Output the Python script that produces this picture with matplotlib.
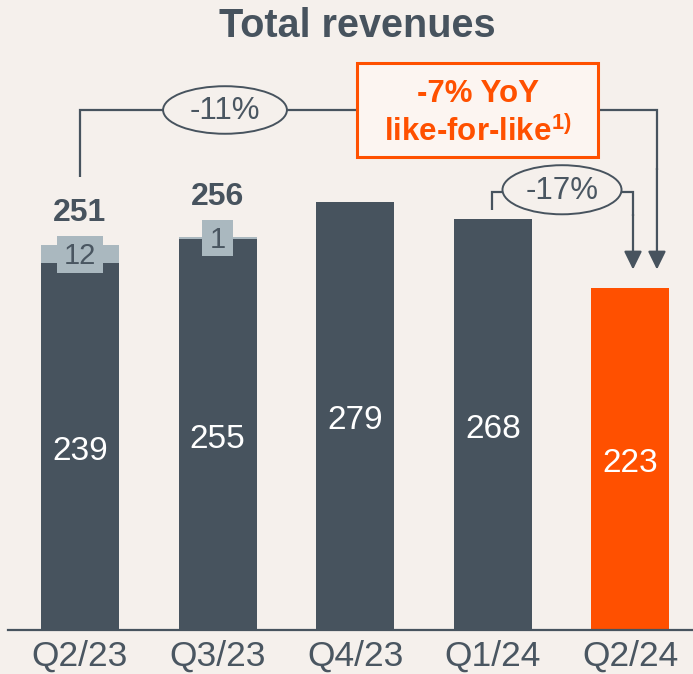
import matplotlib

matplotlib.use("Agg")
import matplotlib.pyplot as plt  # noqa: E402
from matplotlib.patches import Ellipse, Rectangle  # noqa: E402

plt.rcParams["font.family"] = ["Liberation Sans", "DejaVu Sans"]

# data
quarters = ["Q2/23", "Q3/23", "Q4/23", "Q1/24", "Q2/24"]
base_values = [239, 255, 279, 268, 223]
extra_values = [12, 1, 0, 0, 0]
yoy_change = "-11%"
qoq_change = "-17%"
lfl_lines = ["-7% YoY", r"like-for-like$^{\mathregular{1)}}$"]

BG = "#F5F0EC"
DARK = "#47535E"
LIGHT = "#AAB8BF"
ORANGE = "#FF5000"
INK = "#4A5661"

fig = plt.figure(figsize=(6.93, 6.74), dpi=100)
fig.patch.set_facecolor(BG)
ax = fig.add_axes([8 / 693, 44 / 674, 685 / 693, 630 / 674])
ax.set_facecolor("none")
ax.set_xlim(-0.523, 4.455)
ax.set_ylim(0, 410.7)

x = list(range(len(quarters)))
colors = [DARK] * (len(quarters) - 1) + [ORANGE]
ax.bar(x, base_values, width=0.567, color=colors, zorder=2)
ax.bar(x, extra_values, bottom=base_values, width=0.567, color=LIGHT, zorder=2)

for xi, b, e in zip(x, base_values, extra_values):
    ax.text(xi, b / 2 - 3, str(b), ha="center", va="center", color="white", fontsize=24, zorder=4)
    if e:
        w = 0.12 + 0.11 * len(str(e))
        mid = b + e / 2
        ax.add_patch(Rectangle((xi - w / 2, mid - 12), w, 24, facecolor=LIGHT, edgecolor="none", zorder=3))
        ax.text(xi, mid - 1, str(e), ha="center", va="center", color=INK, fontsize=21, zorder=4)
        ax.text(xi, mid + 27, str(b + e), ha="center", va="center", color=DARK,
                fontsize=23, fontweight="bold", zorder=4)

# axis styling
for s in ["top", "right", "left"]:
    ax.spines[s].set_visible(False)
ax.spines["bottom"].set_color(DARK)
ax.spines["bottom"].set_linewidth(1.6)
ax.set_yticks([])
ax.set_xticks(x)
ax.set_xticklabels(quarters)
ax.tick_params(axis="x", length=0, pad=7, labelsize=25.5, colors=INK)

line_kw = dict(color=DARK, lw=1.6, zorder=1, solid_capstyle="butt", solid_joinstyle="miter")
arrow_kw = dict(arrowstyle="-|>,head_length=0.55,head_width=0.27", color=DARK, lw=1.6,
                mutation_scale=20, shrinkA=0, shrinkB=0)

# YoY bracket: Q2/23 -> Q2/24
top_y = 339
ax.plot([0, 0, 4.193, 4.193], [base_values[0] + extra_values[0] + 44, top_y, top_y, 300], **line_kw)
ax.annotate("", xy=(4.193, base_values[4] + 12), xytext=(4.193, 301), arrowprops=arrow_kw, zorder=1)
ax.add_patch(Ellipse((1.054, top_y), 0.90, 31, facecolor=BG, edgecolor=DARK, lw=1.4, zorder=3))
ax.text(1.054, top_y - 0.5, yoy_change, ha="center", va="center", color=INK, fontsize=22.5, zorder=4)

ax.add_patch(Rectangle((2.013, 308.5), 1.752, 61, facecolor="#FCF5F1", edgecolor=ORANGE, lw=2.2, zorder=3))
ax.text(2.889, 349.5, lfl_lines[0], ha="center", va="center", color=ORANGE,
        fontsize=22.5, fontweight="bold", zorder=4)
ax.text(2.889, 324.5, lfl_lines[1], ha="center", va="center", color=ORANGE,
        fontsize=22.5, fontweight="bold", zorder=4)

# QoQ bracket: Q1/24 -> Q2/24
mid_y = 285.5
ax.plot([2.994, 2.994, 4.019, 4.019], [base_values[3] + 6, mid_y, mid_y, 270], **line_kw)
ax.annotate("", xy=(4.019, base_values[4] + 12), xytext=(4.019, 271), arrowprops=arrow_kw, zorder=1)
ax.add_patch(Ellipse((3.503, 287), 0.865, 32, facecolor=BG, edgecolor=DARK, lw=1.4, zorder=3))
ax.text(3.503, 286.5, qoq_change, ha="center", va="center", color=INK, fontsize=22.5, zorder=4)

fig.text(0.516, 0.961, "Total revenues", ha="center", va="center", color=DARK,
         fontsize=28.5, fontweight="bold")

fig.savefig("out.png", dpi=100, facecolor=BG)
